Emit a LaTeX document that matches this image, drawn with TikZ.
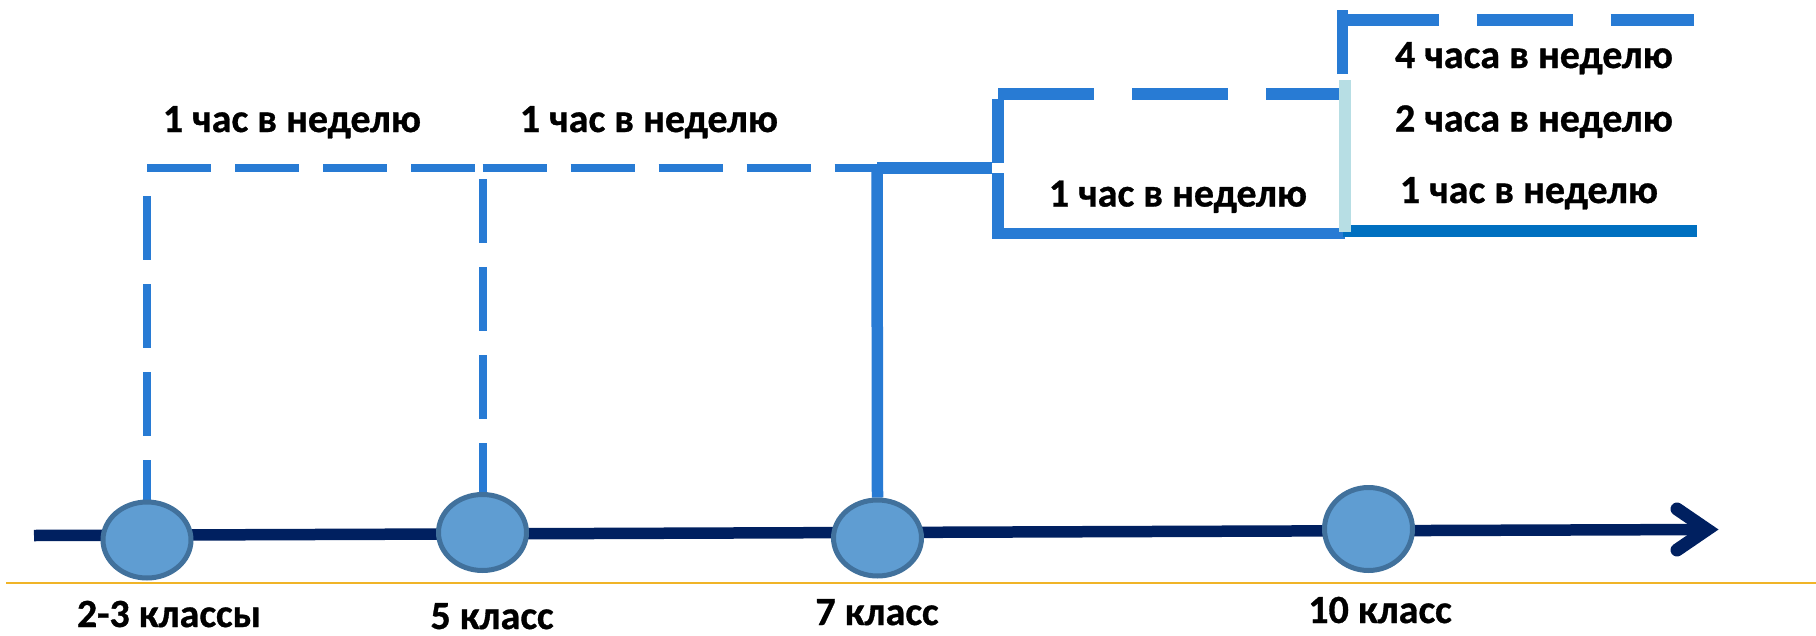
\documentclass[tikz,border=0pt]{standalone}
\usepackage{fontspec}
\setmainfont{Carlito}[BoldFeatures={FakeBold=0.8}]
\usetikzlibrary{shapes.geometric,backgrounds}
\definecolor{axisblue}{RGB}{0,32,96}
\definecolor{linkblue}{RGB}{40,123,212}
\definecolor{deepblue}{RGB}{0,112,192}
\definecolor{paleteal}{RGB}{183,222,228}
\definecolor{dotfill}{RGB}{95,157,210}
\definecolor{dotedge}{RGB}{65,113,156}
\definecolor{goldline}{RGB}{240,180,40}
\begin{document}
\begin{tikzpicture}[x=1pt,y=-1pt,
  dot/.style={ellipse, draw=dotedge, fill=dotfill, line width=5pt, inner sep=0pt, minimum width=88pt, minimum height=76pt},
  lbl/.style={font=\bfseries\fontsize{40}{48}\selectfont, anchor=base, inner sep=0pt, text depth=0pt},
  shortdash/.style={linkblue, line width=8pt, dash pattern=on 64pt off 24pt},
  longdash/.style={linkblue, line width=12pt, dash pattern=on 96pt off 38pt},
  solidline/.style={linkblue, line width=11.5pt},
]
\useasboundingbox (0,0) rectangle (1816,635);

% timeline points
\node[dot] (c1) at (147,540) {};
\node[dot] (c2) at (482.5,532.5) {};
\node[dot] (c3) at (877.5,538) {};
\node[dot, minimum height=83pt] (c4) at (1368.5,529) {};

% coordinates
\coordinate (ax0) at (34,535.5);
\coordinate (ax1) at (1708,529.5);
\coordinate (armA) at (1677,509);
\coordinate (tip) at (1707,529.5);
\coordinate (armB) at (1677,550);
\coordinate (g0) at (6,583);
\coordinate (g1) at (1816,583);
\coordinate (h1) at (147,168);
\coordinate (h2) at (482.5,168);
\coordinate (h3) at (877,168);
\coordinate (v1) at (147,172);
\coordinate (v2) at (482.5,179);
\coordinate (s1) at (992,168);
\coordinate (b0) at (998,173);
\coordinate (b1) at (998,233.5);
\coordinate (b2) at (1345,233.5);
\coordinate (u0) at (998,163);
\coordinate (u1) at (998,99);
\coordinate (u2) at (998,94);
\coordinate (u3) at (1345,94);
\coordinate (r0) at (1342.5,74);
\coordinate (r1) at (1342.5,9.5);
\coordinate (r2) at (1342.5,19.5);
\coordinate (r3) at (1694,19.5);
\coordinate (d0) at (1343,231);
\coordinate (d1) at (1697,231);
\coordinate (p0) at (1345,80);
\coordinate (p1) at (1345,232);

\begin{pgfonlayer}{background}
\draw[goldline, line width=2.5pt] (g0) -- (g1);
\draw[axisblue, line width=11.5pt] (ax0) -- (ax1);
\draw[axisblue, line width=13pt, line cap=round, line join=miter] (armA) -- (tip) -- (armB);
% left dashed structure
\draw[shortdash] (h1) -- (h2);
\draw[shortdash] (h2) -- (h3);
\draw[shortdash, dash phase=64pt] (v1) -- (c1.north);
\draw[shortdash] (v2) -- (c2.north);
% 7 class solid
\draw[solidline] (c3.north) -- (h3);
\draw[solidline] (h3) -- (s1);
% lower bracket
\draw[solidline, line join=miter] (b0) -- (b1) -- (b2);
% upper bracket
\draw[solidline] (u0) -- (u1);
\draw[longdash] (u2) -- (u3);
% top right bracket
\draw[solidline] (r0) -- (r1);
\draw[longdash] (r2) -- (r3);
\draw[deepblue, line width=12pt] (d0) -- (d1);
\draw[paleteal, line width=11.5pt] (p0) -- (p1);
\end{pgfonlayer}

% texts
\node[lbl] (t1) at (292,132) {1 час в неделю};
\node[lbl] (t2) at (649,132) {1 час в неделю};
\node[lbl] (t3) at (1178,206.5) {1 час в неделю};
\node[lbl] (t4) at (1534,68) {4 часа в неделю};
\node[lbl] (t5) at (1534,131.5) {2 часа в неделю};
\node[lbl] (t6) at (1529,203) {1 час в неделю};
\node[lbl] (l1) at (169,627) {2-3 классы};
\node[lbl] (l2) at (492,629) {5 класс};
\node[lbl] (l3) at (877,625) {7 класс};
\node[lbl] (l4) at (1380,623) {10 класс};
\end{tikzpicture}
\end{document}
